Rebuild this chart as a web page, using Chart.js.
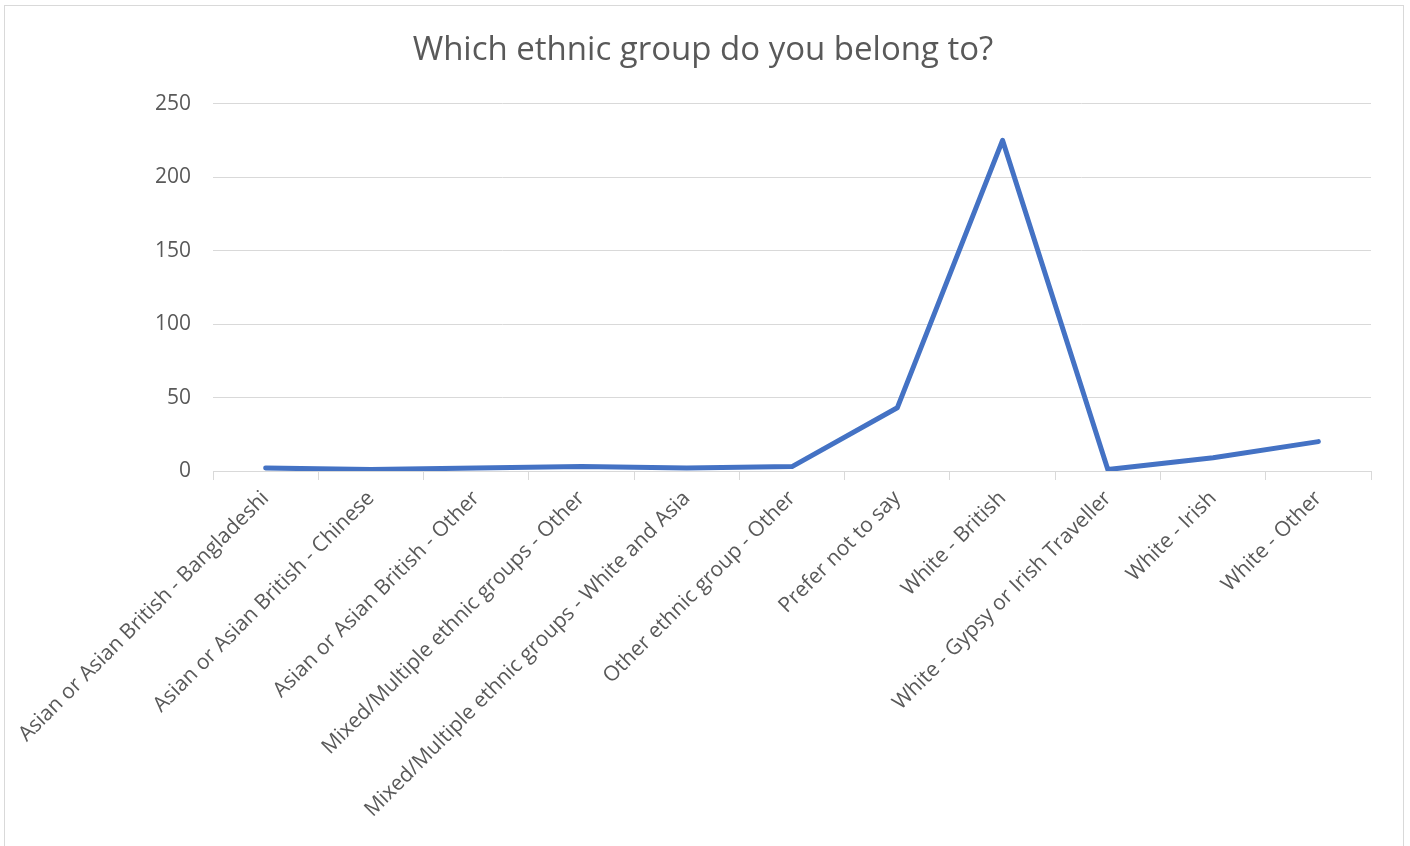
<!DOCTYPE html>
<html>
<head>
<meta charset="utf-8">
<script src="https://cdn.jsdelivr.net/npm/chart.js@4/dist/chart.umd.min.js"></script>
<style>
  html, body { margin: 0; padding: 0; background: #fff; overflow: hidden; }
  #frame { position: absolute; left: 4px; top: 5px; width: 1398px; height: 900px; border: 1px solid #d9d9d9; }
  #wrap { position: absolute; left: 0; top: 0; width: 1410px; height: 846px; }
</style>
</head>
<body>
<div id="frame"></div>
<div id="wrap"><canvas id="myChart"></canvas></div>
<script>
var groups = [
  "Asian or Asian British - Bangladeshi",
  "Asian or Asian British - Chinese",
  "Asian or Asian British - Other",
  "Mixed/Multiple ethnic groups - Other",
  "Mixed/Multiple ethnic groups - White and Asia",
  "Other ethnic group - Other",
  "Prefer not to say",
  "White - British",
  "White - Gypsy or Irish Traveller",
  "White - Irish",
  "White - Other"
];
var counts = [2, 1, 2, 3, 2, 3, 43, 225, 1, 9, 20];
var yTicks = [0, 50, 100, 150, 200, 250];

var grey = '#595959';
var lines = '#d9d9d9';
var font = "'Open Sans', sans-serif";

var ctx = document.getElementById('myChart').getContext('2d');
var lineChart = new Chart(ctx, {
  type: 'line',
  data: {
    labels: groups,
    datasets: [{
      label: 'Count',
      data: counts,
      borderColor: '#4472c4',
      borderWidth: 5,
      borderCapStyle: 'round',
      borderJoinStyle: 'round',
      pointRadius: 0,
      lineTension: 0,
      fill: false
    }]
  },
  options: {
    responsive: true,
    maintainAspectRatio: false,
    animation: false,
    layout: { padding: { left: 0, right: 4, top: 0, bottom: 0 } },
    plugins: {
      legend: { display: false },
      tooltip: { enabled: false },
      title: {
        display: true,
        text: 'Which ethnic group do you belong to?',
        color: grey,
        font: { family: font, size: 33, weight: 'normal' },
        padding: { top: 31, bottom: 33 }
      }
    },
    scales: {
      x: {
        offset: true,
        grid: { offset: true, drawOnChartArea: false, drawTicks: true, tickLength: 9, color: lines },
        border: { color: lines },
        ticks: {
          autoSkip: false,
          maxRotation: 45,
          minRotation: 45,
          color: grey,
          padding: 6,
          font: { family: font, size: 21 }
        },
        afterFit: function (s) { s.height = 375; }
      },
      y: {
        min: 0,
        max: 250,
        afterBuildTicks: function (s) { s.ticks = yTicks.map(function (v) { return { value: v }; }); },
        grid: { color: lines, drawTicks: false },
        border: { display: false },
        ticks: {
          color: grey,
          padding: 22,
          font: { family: font, size: 21 }
        },
        afterFit: function (s) { s.width = 213; }
      },
      // empty right-hand space so the title centres on the frame
      spacer: {
        type: 'linear',
        position: 'right',
        grid: { display: false },
        border: { display: false },
        ticks: { display: false },
        afterFit: function (s) { s.width = 35; }
      }
    }
  }
});
</script>
</body>
</html>
